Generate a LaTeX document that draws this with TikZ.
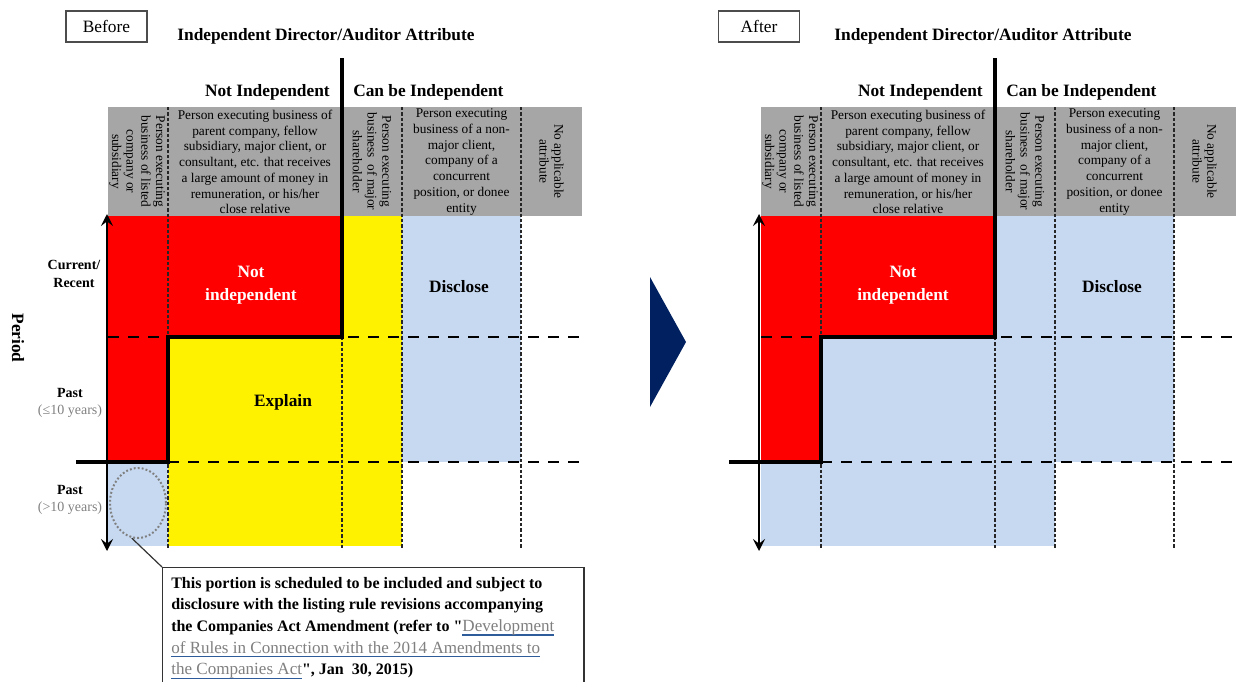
\documentclass[tikz,border=0pt]{standalone}
\usepackage{fontspec}
\setmainfont{Liberation Serif}[Ligatures=TeXOff]
\usetikzlibrary{arrows.meta}
\usetikzlibrary{shapes.geometric}

\definecolor{hdrgray}{HTML}{A6A6A6}
\definecolor{exblue}{HTML}{C6D9F1}
\definecolor{navy}{HTML}{002060}
\definecolor{notegray}{HTML}{808080}
\definecolor{linkblue}{HTML}{2E5C9A}

\newsavebox\linkbox
\newcommand\linktxt[1]{\leavevmode\sbox\linkbox{\fontsize{12.8}{16.3}\selectfont\mdseries\color{notegray}#1}\rlap{\color{linkblue}\rule[-3pt]{\wd\linkbox}{1.1pt}}\usebox\linkbox}

\begin{document}
\begin{tikzpicture}[
                x=0.75pt, y=-0.75pt,
                cut/.style = {line width = 3pt, line cap = rect},
                rowdash/.style = {line width = 2.2pt, dash pattern = on 8.5pt off 6.5pt},
                coldash/.style = {line width = 0.9pt, black!85, dash pattern = on 2.5pt off 1.5pt},
                hdr/.style = {font = \fontsize{10}{11.8}\selectfont, align = center, inner sep = 0pt},
                vhdr/.style = {hdr, rotate = -90, font = \fontsize{10}{11}\selectfont},
                tag/.style = {draw = black!70, line width = 0.9pt, minimum width = 60.75pt,
                    minimum height = 23.25pt, inner sep = 0pt, font = \fontsize{13}{15}\selectfont},
                heading/.style = {font = \bfseries\fontsize{13}{15}\selectfont, inner sep = 0pt},
                big/.style = {font = \bfseries\fontsize{13}{17.25}\selectfont, align = center, inner sep = 0pt},
                side/.style = {font = \bfseries\fontsize{10.5}{12.5}\selectfont, align = center, inner sep = 0pt},
                period/.style = {<->, >={Stealth[length = 9pt, width = 9pt, inset = 3.5pt]}, line width = 1.9pt}
            ]
            \useasboundingbox (0,0) rectangle (1236,682);
            %
            % Before
            %
            \fill[hdrgray] (108,107) rectangle (582,216);
            \fill[red] (108,216) rectangle (168,462);
            \fill[red] (168,216) rectangle (342,337);
            \fill[yellow] (342,216) rectangle (402,337);
            \fill[yellow] (168,337) rectangle (402,546);
            \fill[exblue] (402,216) rectangle (521,462);
            \fill[exblue] (108,462) rectangle (168,546);
            %
            \draw[coldash] (168,107) -- (168,548);
            \draw[coldash] (342,337) -- (342,548);
            \draw[coldash] (402,107) -- (402,548);
            \draw[coldash] (521,107) -- (521,548);
            %
            \draw[rowdash] (108,337) -- (582,337);
            \draw[rowdash] (168,462) -- (582,462);
            %
            \draw[cut] (342,60) -- (342,337) -- (168,337) -- (168,462) -- (78,462);
            %
            \coordinate (ltop) at (107,214);
            \coordinate (lbot) at (107,551);
            \draw[period] (ltop) -- (lbot);
            %
            \node[tag] (before) at (106.5,26.5) {Before};
            \node[heading] (title) at (326,36) {Independent Director/Auditor Attribute};
            \node[heading, anchor=east] (notind) at (330,92) {Not Independent};
            \node[heading, anchor=west] (canind) at (353,92) {Can be Independent};
            %
            \node[vhdr] (h1) at (137,161.5) {Person executing\\business of listed\\company or\\subsidiary};
            \node[hdr] (h2) at (255,162) {Person executing business of\\parent company, fellow\\subsidiary, major client, or\\consultant, etc. that receives\\a large amount of money in\\remuneration, or his/her\\close relative};
            \node[vhdr] (h3) at (372,161.5) {Person executing\\business\ \ of major\\shareholder};
            \node[hdr] (h4) at (461.5,162) {Person executing\\business of a non-\\major client,\\company of a\\concurrent\\position, or donee\\entity};
            \node[vhdr] (h5) at (551.5,161.5) {No applicable\\attribute};
            %
            \node[side] (cur) at (74,274) {Current/\\[1pt]Recent};
            \node[side] (past) at (70,403) {Past\\{\mdseries\color{notegray}(≤10 years)}};
            \node[side] (old) at (70,500) {Past\\{\mdseries\color{notegray}(>10 years)}};
            \node[heading, rotate=-90] (period) at (18,338) {Period};
            %
            \node[big, white] (notlbl) at (251,285) {Not\\independent};
            \node[big] (explain) at (283,402) {Explain};
            \node[big] (disclose) at (459,287) {Disclose};
            %
            \node[ellipse, draw=notegray, line width=1.5pt, dash pattern=on 1.4pt off 1.6pt,
                minimum width=42pt, minimum height=52.5pt, inner sep=0pt] (circ) at (138,503) {};
            \node[draw=black!80, line width=0.9pt, anchor=north west, text width=303pt, align=flush left,
                inner xsep=6.5pt, inner ysep=7pt, font=\bfseries\fontsize{12}{16.3}\selectfont] (note) at (162,567)
                {This portion is scheduled to be included and subject to\\
                disclosure with the listing rule revisions accompanying\\
                the Companies Act Amendment (refer to "\linktxt{Development}\\
                \linktxt{of Rules in Connection with the 2014 Amendments to}\\
                \linktxt{the Companies Act}", Jan\ \ 30, 2015)};
            \draw[line width=0.9pt, black!80] (circ.-100) -- (note.north west);
            %
            % arrow
            %
            \fill[navy] (650,277) -- (686,342) -- (650,407) -- cycle;
            %
            % After
            %
            \begin{scope}[xshift=489.75pt]
            \fill[hdrgray] (108,107) rectangle (583,216);
            \fill[exblue] (108,216) rectangle (521,462);
            \fill[exblue] (108,462) rectangle (402,546);
            \fill[red] (108,216) rectangle (168,462);
            \fill[red] (168,216) rectangle (342,337);
            %
            \draw[coldash] (168,107) -- (168,548);
            \draw[coldash] (342,337) -- (342,548);
            \draw[coldash] (402,107) -- (402,548);
            \draw[coldash] (521,107) -- (521,548);
            %
            \draw[rowdash] (108,337) -- (583,337);
            \draw[rowdash] (168,462) -- (583,462);
            %
            \draw[cut] (342,60) -- (342,337) -- (168,337) -- (168,462) -- (78,462);
            %
            \coordinate (rtop) at (106,214);
            \coordinate (rbot) at (106,551);
            \draw[period] (rtop) -- (rbot);
            %
            \node[tag] (after) at (106,26.5) {After};
            \node[heading] (title2) at (330,36) {Independent Director/Auditor Attribute};
            \node[heading, anchor=east] (notind2) at (330,92) {Not Independent};
            \node[heading, anchor=west] (canind2) at (353,92) {Can be Independent};
            %
            \node[vhdr] (g1) at (137,161.5) {Person executing\\business of listed\\company or\\subsidiary};
            \node[hdr] (g2) at (255,162) {Person executing business of\\parent company, fellow\\subsidiary, major client, or\\consultant, etc. that receives\\a large amount of money in\\remuneration, or his/her\\close relative};
            \node[vhdr] (g3) at (372,161.5) {Person executing\\business\ \ of major\\shareholder};
            \node[hdr] (g4) at (461.5,162) {Person executing\\business of a non-\\major client,\\company of a\\concurrent\\position, or donee\\entity};
            \node[vhdr] (g5) at (551.5,161.5) {No applicable\\attribute};
            %
            \node[big, white] (notlbl2) at (250,285) {Not\\independent};
            \node[big] (disclose2) at (459,287) {Disclose};
            \end{scope}
            %
        \end{tikzpicture}
\end{document}
